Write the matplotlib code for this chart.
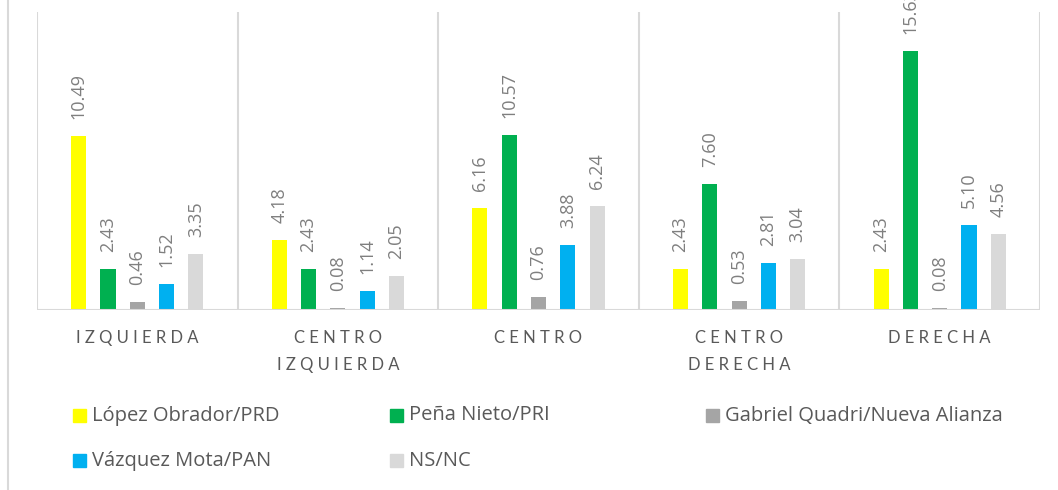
import matplotlib
matplotlib.use('Agg')
import matplotlib.pyplot as plt
from matplotlib.patches import Rectangle
from matplotlib.lines import Line2D
import numpy as np

plt.rcParams['font.family'] = ['Open Sans', 'DejaVu Sans']

categories = ['IZQUIERDA', 'CENTRO\nIZQUIERDA', 'CENTRO', 'CENTRO\nDERECHA', 'DERECHA']
series = ['López Obrador/PRD', 'Peña Nieto/PRI', 'Gabriel Quadri/Nueva Alianza',
          'Vázquez Mota/PAN', 'NS/NC']
lopez = [10.49, 4.18, 6.16, 2.43, 2.43]
pena = [2.43, 2.43, 10.57, 7.60, 15.63]
quadri = [0.46, 0.08, 0.76, 0.53, 0.08]
vazquez = [1.52, 1.14, 3.88, 2.81, 5.10]
nsnc = [3.35, 2.05, 6.24, 3.04, 4.56]
colors = ['#FFFF00', '#00B050', '#A5A5A5', '#00B0F0', '#D9D9D9']

W, H = 1058, 490
fig = plt.figure(figsize=(W / 100, H / 100), dpi=100)
ax = fig.add_axes([37 / W, 1 - 309.5 / H, (1040 - 37) / W, (309.5 - 12) / H])

x = np.arange(len(categories))
step = 0.146
width = 0.075
for i, (vals, col) in enumerate(zip([lopez, pena, quadri, vazquez, nsnc], colors)):
    xs = x + (i - 2) * step
    ax.bar(xs, vals, width=width, color=col, zorder=3)
    for xi, v in zip(xs, vals):
        ax.annotate(f'{v:.2f}', (xi, v), xytext=(0, 17), textcoords='offset pixels',
                    rotation=90, ha='center', va='bottom', color='#7F7F7F', fontsize=13)

ax.set_xlim(-0.5, len(categories) - 0.5)
ax.set_ylim(0, 18)
for b in np.arange(-0.5, len(categories), 1.0):
    ax.axvline(b, color='#D9D9D9', lw=1.5, zorder=1)
for s in ax.spines.values():
    s.set_visible(False)
ax.axhline(0, color='#D9D9D9', lw=1.5, zorder=4)
ax.set_yticks([])
spaced = ['\n'.join(' '.join(w) for w in c.split('\n')) for c in categories]
ax.set_xticks(x)
ax.set_xticklabels(spaced, color='#595959', fontsize=12, linespacing=1.8,
                   family=['Lato', 'DejaVu Sans'])
ax.tick_params(axis='x', length=0, pad=15)

# legend, drawn like Excel: equal-width columns
leg_x = [73, 390, 706, 73, 390]
leg_y = [415.5, 415.5, 415.5, 460.5, 460.5]
for name, col, lx, ly in zip(series, colors, leg_x, leg_y):
    fig.add_artist(Rectangle((lx / W, 1 - (ly + 6.5) / H), 13 / W, 13 / H,
                             transform=fig.transFigure, color=col))
    fig.text((lx + 19) / W, 1 - ly / H, name, va='center', ha='left',
             color='#595959', fontsize=14.5)

fig.add_artist(Line2D([7.5 / W, 7.5 / W], [0, 1], color='#D9D9D9', lw=1.5))

fig.savefig('out.png', dpi=100)
